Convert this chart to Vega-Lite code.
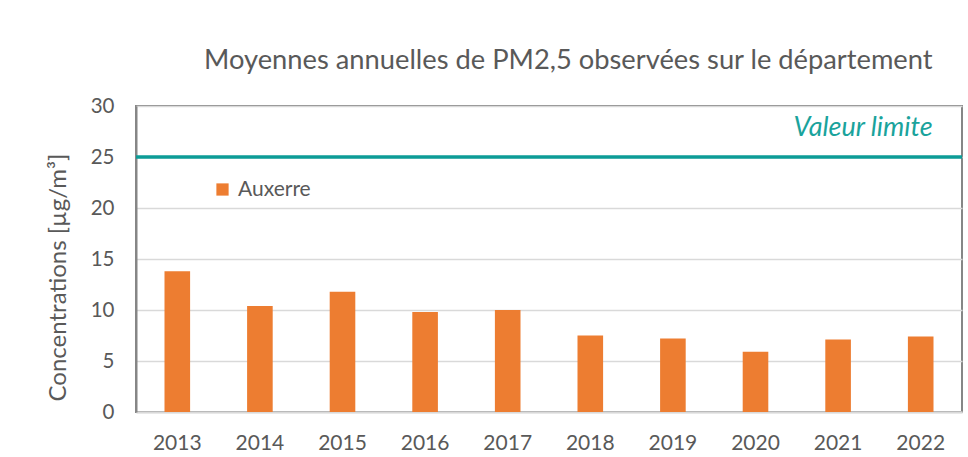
{
  "$schema": "https://vega.github.io/schema/vega-lite/v6.json",
  "width": 826,
  "height": 306,
  "autosize": {"type": "none"},
  "padding": {"left": 136, "top": 106, "right": 6, "bottom": 45},
  "background": "white",
  "config": {
    "font": "Lato",
    "view": {"stroke": "#868686", "strokeWidth": 2},
    "axis": {"labelColor": "#595959", "titleColor": "#595959", "labelFont": "Lato", "titleFont": "Lato"}
  },
  "title": {
    "text": "Moyennes annuelles de PM2,5 observées sur le département",
    "font": "Lato",
    "fontSize": 27.3,
    "fontWeight": "normal",
    "color": "#595959",
    "anchor": "start",
    "frame": "group",
    "dx": 68,
    "baseline": "alphabetic",
    "offset": 0
  },
  "datasets": {
    "pm": [
      {"annee": "2013", "valeur": 13.8, "station": "Auxerre"},
      {"annee": "2014", "valeur": 10.4, "station": "Auxerre"},
      {"annee": "2015", "valeur": 11.8, "station": "Auxerre"},
      {"annee": "2016", "valeur": 9.8, "station": "Auxerre"},
      {"annee": "2017", "valeur": 10.0, "station": "Auxerre"},
      {"annee": "2018", "valeur": 7.5, "station": "Auxerre"},
      {"annee": "2019", "valeur": 7.2, "station": "Auxerre"},
      {"annee": "2020", "valeur": 5.9, "station": "Auxerre"},
      {"annee": "2021", "valeur": 7.1, "station": "Auxerre"},
      {"annee": "2022", "valeur": 7.4, "station": "Auxerre"}
    ],
    "limite": [
      {"annee": "2022", "valeur": 25, "label": "Valeur limite", "labelY": 27.8}
    ]
  },
  "layer": [
    {
      "data": {"name": "pm"},
      "mark": {"type": "bar"},
      "encoding": {
        "x": {
          "field": "annee",
          "type": "nominal",
          "scale": {"paddingInner": 0.69, "paddingOuter": 0.345},
          "axis": {
            "title": null,
            "labelAngle": 0,
            "labelFontSize": 21,
            "labelPadding": 20,
            "ticks": false,
            "domainColor": "#d9d9d9",
            "domainWidth": 2
          }
        },
        "y": {
          "field": "valeur",
          "type": "quantitative",
          "scale": {"domain": [0, 30], "nice": false},
          "axis": {
            "title": "Concentrations [µg/m³]",
            "titleFontSize": 24,
            "titleFontWeight": "normal",
            "titleAngle": -90,
            "titleBaseline": "middle",
            "titleAlign": "center",
            "titleX": -78,
            "titleY": 171,
            "values": [0, 5, 10, 15, 20, 25, 30],
            "labelFontSize": 20.5,
            "labelPadding": 22,
            "ticks": false,
            "domainColor": "#868686",
            "domainWidth": 2,
            "gridColor": "#d9d9d9",
            "gridWidth": 1.5
          }
        },
        "color": {
          "field": "station",
          "type": "nominal",
          "scale": {"range": ["#ED7D31"]},
          "legend": {
            "title": null,
            "orient": "none",
            "legendX": 76,
            "legendY": 73,
            "symbolType": "square",
            "symbolSize": 150,
            "symbolStrokeWidth": 0,
            "labelFontSize": 21,
            "labelColor": "#595959",
            "labelFont": "Lato",
            "labelOffset": 5
          }
        }
      }
    },
    {
      "data": {"name": "limite"},
      "mark": {"type": "rule", "color": "#0d9c97", "strokeWidth": 3.5},
      "encoding": {
        "y": {"field": "valeur", "type": "quantitative"}
      }
    },
    {
      "data": {"name": "limite"},
      "mark": {"type": "text", "color": "#1aa39c", "fontStyle": "italic", "fontSize": 27, "align": "right", "baseline": "middle", "dx": 12, "font": "Lato"},
      "encoding": {
        "x": {"field": "annee", "type": "nominal"},
        "y": {"field": "labelY", "type": "quantitative"},
        "text": {"field": "label"}
      }
    }
  ]
}
